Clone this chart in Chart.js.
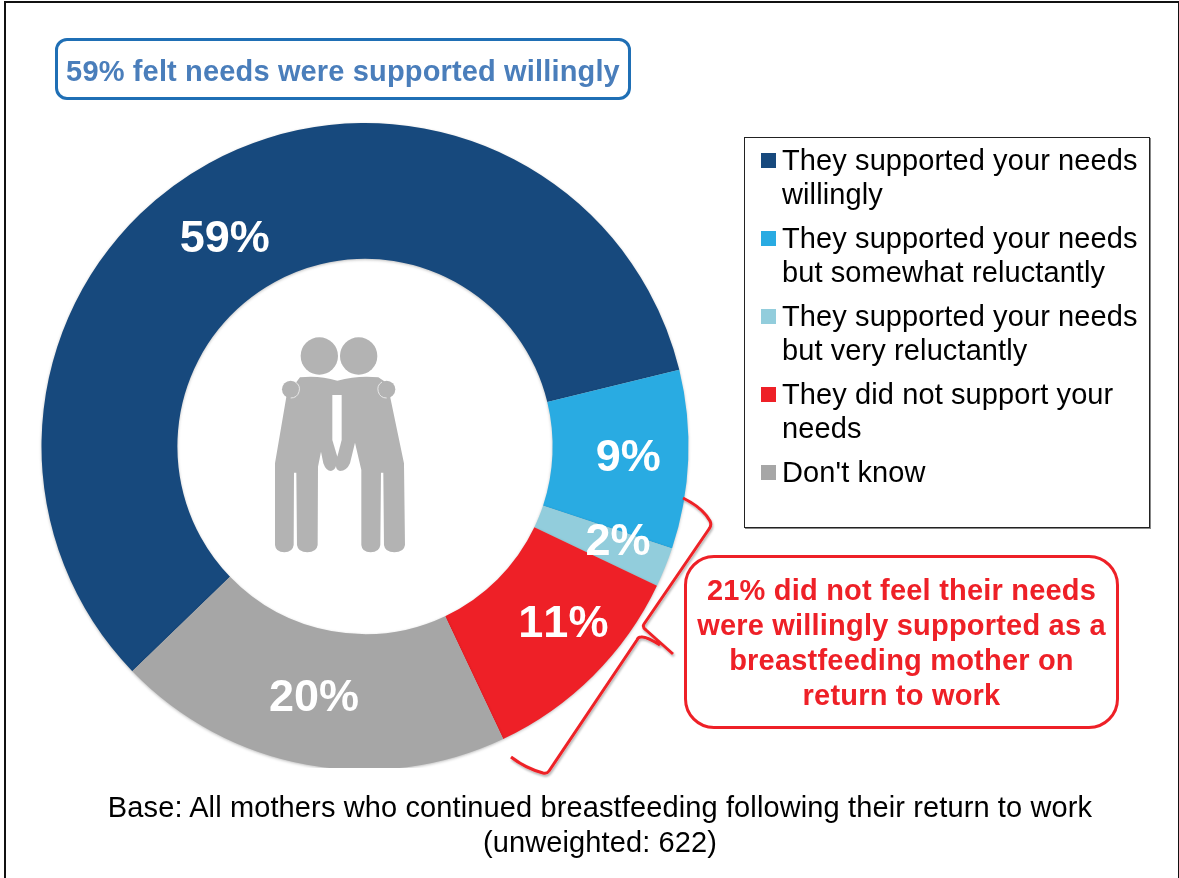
<!DOCTYPE html>
<html>
<head>
<meta charset="utf-8">
<title>Breastfeeding support on return to work</title>
<script src="https://cdn.jsdelivr.net/npm/chart.js@4"></script>
<style>
    html, body { margin: 0; padding: 0; background: #fff; overflow: hidden; }
    body { width: 1179px; height: 878px; position: relative; font-family: "Liberation Sans", Arial, sans-serif; }
    #frame { position: absolute; left: 4px; top: 1px; width: 1172px; height: 890px; border: 2px solid #111; }
    #donut { position: absolute; left: 0; top: 0; }
    #strip { position: absolute; left: 6px; top: 768px; width: 1171px; height: 12px; background: #fff; }
    svg { position: absolute; left: 0; top: 0; }
    #headline { position: absolute; left: 55px; top: 38px; width: 570px; height: 56px; border: 3px solid #1f6fb5; border-radius: 12px;
        color: #4a7ebb; font-weight: bold; font-size: 29px; letter-spacing: 0.15px; line-height: 60px; text-align: center; white-space: nowrap; }
    #legendBox { position: absolute; left: 744px; top: 137px; width: 406px; height: 391px; border: 1px solid #222;
        box-shadow: 1px 1px 0 #888; box-sizing: border-box; }
    .item { position: absolute; left: 37px; width: 364px; font-size: 29px; letter-spacing: 0.1px; line-height: 33.5px; color: #000; }
    .swatch { position: absolute; left: 16px; width: 15px; height: 15px; }
    #callout { position: absolute; left: 684px; top: 555px; width: 429px; height: 168px; border: 3px solid #ee2027; border-radius: 30px;
        color: #ee2027; font-weight: bold; font-size: 29px; letter-spacing: 0.2px; line-height: 35px; text-align: center; white-space: nowrap; }
    #callout div { padding-top: 15px; }
    #base { position: absolute; left: 6px; top: 790px; width: 1188px; font-size: 29px; letter-spacing: 0.12px; line-height: 35px; text-align: center; color: #000; }
</style>
</head>
<body>
<canvas id="donut" width="1179" height="878"></canvas>
<div id="strip"></div>
<div id="frame"></div>

<!-- two figures in the middle of the ring -->
<svg width="1179" height="878">
    <defs>
        <filter id="soft" x="-10%" y="-10%" width="120%" height="120%">
            <feDropShadow dx="1" dy="2" stdDeviation="1.2" flood-color="#000" flood-opacity="0.3"/>
        </filter>
    </defs>
    <g transform="translate(250 320) scale(0.3333)">
        <circle cx="208" cy="108" r="56" fill="#b3b3b3"/>
        <circle cx="326" cy="108" r="56" fill="#b3b3b3"/>
        <path fill="#b3b3b3" d="M150 172 Q205 165 262 182 Q325 165 385 172 L412 190 L462 430 L465 675 Q462 697 433 697 Q405 697 402 675
            L400 458 L393 458 L391 675 Q388 697 362 697 Q336 697 334 675 L334 450 L315 368 L300 430 Q290 453 270 453 Q258 450 258 438
            Q255 450 243 453 Q228 453 220 430 L213 395 L204 440 L203 675 Q200 697 172 697 Q144 697 141 675 L139 458 L132 458 L131 675
            Q128 697 103 697 Q77 697 75 675 L75 430 L110 225 Z"/>
        <circle cx="122" cy="208" r="26" fill="#b3b3b3"/>
        <circle cx="410" cy="208" r="26" fill="#b3b3b3"/>
        <path fill="none" stroke="#e8e8e8" stroke-width="3" d="M136 186 A26 26 0 0 1 122 234 M396 186 A26 26 0 0 0 410 234"/>
        <polygon fill="#fff" points="247,225 275,225 275,360 262,410 247,360"/>
    </g>
    <!-- brace from the three red-side slices to the callout -->
    <path filter="url(#soft)" fill="none" stroke="#ee2027" stroke-width="3" stroke-linejoin="round"
        d="M683 498 Q703 508 710 521 Q712 525 709 529 L644 624 Q642 627 646 630 L673 654 M660 645 Q646 636 641 637 Q638 637 637 640
           L549 771 Q547 774 543 773 Q525 768 511 757"/>
</svg>

<div id="headline">59% felt needs were supported willingly</div>
<div id="legendBox"></div>
<div id="callout"><div>21% did not feel their needs<br>were willingly supported as a<br>breastfeeding mother on<br>return to work</div></div>
<div id="base">Base: All mothers who continued breastfeeding following their return to work<br>(unweighted: 622)</div>

<script>
const categories = [
    'They supported your needs willingly',
    'They supported your needs but somewhat reluctantly',
    'They supported your needs but very reluctantly',
    'They did not support your needs',
    "Don't know"
];
const shares = [59, 9, 2, 11, 20];
const sliceColors = ['#17497d', '#29abe2', '#92cddc', '#ee2027', '#a6a6a6'];
// nudges of the percent labels away from the slice centre
const labelNudgeX = [-17, 8, 16, 18, -5];
const labelNudgeY = [17, 2, 1, -3, 1];
const legendTops = [6, 84, 162, 240, 318];

// legend lives in a plain div
const legendBox = document.getElementById('legendBox');
categories.forEach(function (name, i) {
    const sw = document.createElement('div');
    sw.className = 'swatch';
    sw.style.top = (legendTops[i] + 9) + 'px';
    sw.style.background = sliceColors[i];
    legendBox.appendChild(sw);
    const item = document.createElement('div');
    item.className = 'item';
    item.style.top = legendTops[i] + 'px';
    item.textContent = name;
    legendBox.appendChild(item);
});

const ringShadow = {
    id: 'ringShadow',
    beforeDatasetsDraw(chart) {
        chart.ctx.save();
        chart.ctx.shadowColor = 'rgba(0,0,0,0.25)';
        chart.ctx.shadowBlur = 3;
        chart.ctx.shadowOffsetY = 1;
    },
    afterDatasetsDraw(chart) {
        chart.ctx.restore();
    }
};

const percentLabels = {
    id: 'percentLabels',
    afterDraw(chart) {
        const ctx = chart.ctx;
        ctx.save();
        ctx.font = 'bold 45px "Liberation Sans", Arial, sans-serif';
        ctx.fontKerning = 'none';
        ctx.fillStyle = '#fff';
        ctx.textAlign = 'center';
        ctx.textBaseline = 'middle';
        chart.getDatasetMeta(0).data.forEach(function (arc, i) {
            const p = arc.getCenterPoint();
            ctx.fillText(shares[i] + '%', p.x + labelNudgeX[i], p.y + labelNudgeY[i]);
        });
        ctx.restore();
    }
};

new Chart(document.getElementById('donut').getContext('2d'), {
    type: 'doughnut',
    data: {
        labels: categories,
        datasets: [{
            data: shares,
            backgroundColor: sliceColors,
            borderWidth: 0
        }]
    },
    options: {
        responsive: false,
        animation: false,
        rotation: 226,
        cutout: '58%',
        layout: { padding: { left: 41, top: 123, right: 490, bottom: 108 } },
        plugins: {
            legend: { display: false },
            tooltip: { enabled: false }
        }
    },
    plugins: [ringShadow, percentLabels]
});
</script>
</body>
</html>
